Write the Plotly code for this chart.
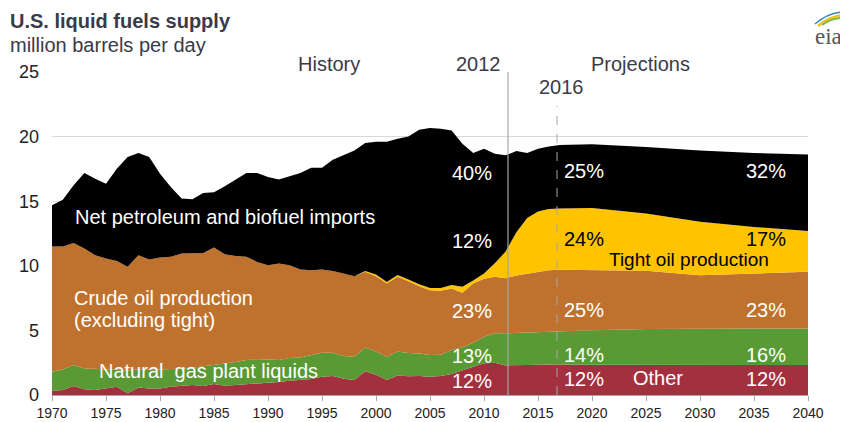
import plotly.graph_objects as go

# ---------------- data (million barrels per day) ----------------
years = list(range(1970, 2018)) + [2020, 2025, 2030, 2035, 2040]

other = [0.30, 0.39, 0.70, 0.44, 0.39, 0.49, 0.64, 0.13, 0.59, 0.51,
         0.51, 0.64, 0.70, 0.77, 0.70, 0.85, 0.72, 0.77, 0.85, 0.85,
         0.90, 1.00, 1.10, 1.16, 1.23, 1.42, 1.47, 1.26, 1.16, 1.83,
         1.57, 1.16, 1.50, 1.45, 1.47, 1.42, 1.47, 1.62, 1.93, 2.19,
         2.45, 2.50, 2.29, 2.29, 2.32, 2.35, 2.37, 2.37,
         2.35, 2.33, 2.32, 2.32, 2.32]

ngpl = [1.50, 1.59, 1.62, 1.62, 1.64, 1.49, 1.36, 1.74, 1.41, 1.44,
        1.47, 1.36, 1.35, 1.33, 1.50, 1.47, 1.73, 1.78, 1.85, 1.90,
        1.85, 1.70, 1.76, 1.74, 1.84, 1.85, 1.80, 1.75, 1.80, 1.85,
        1.80, 1.80, 1.87, 1.80, 1.75, 1.67, 1.65, 1.86, 1.76, 1.85,
        2.06, 2.27, 2.48, 2.51, 2.51, 2.50, 2.50, 2.53,
        2.67, 2.77, 2.83, 2.83, 2.83]

crude = [9.70, 9.52, 9.45, 9.27, 8.79, 8.58, 8.38, 8.05, 8.82, 8.54,
         8.66, 8.70, 8.90, 8.85, 8.80, 9.09, 8.45, 8.20, 8.00, 7.55,
         7.30, 7.48, 7.19, 6.81, 6.59, 6.44, 6.33, 6.39, 6.24, 5.85,
         5.83, 5.67, 5.78, 5.55, 5.20, 5.02, 4.94, 4.76, 4.22, 4.59,
         4.49, 4.38, 4.27, 4.45, 4.57, 4.70, 4.79, 4.80,
         4.64, 4.51, 4.12, 4.25, 4.38]

tight = [0, 0, 0, 0, 0, 0, 0, 0, 0, 0,
         0, 0, 0, 0, 0, 0, 0, 0, 0, 0,
         0, 0, 0, 0, 0, 0, 0, 0, 0, 0.06,
         0.12, 0.12, 0.14, 0.14, 0.16, 0.18, 0.22, 0.28, 0.46, 0.24,
         0.40, 1.05, 2.06, 3.35, 4.30, 4.65, 4.74, 4.73,
         4.81, 4.43, 4.13, 3.60, 3.17]

imports = [3.18, 3.62, 4.46, 5.85, 5.92, 5.79, 7.14, 8.50, 7.91, 7.93,
           6.49, 5.40, 4.25, 4.20, 4.64, 4.29, 5.25, 5.90, 6.48, 6.88,
           6.82, 6.49, 6.85, 7.47, 7.93, 7.88, 8.60, 9.15, 9.73, 9.91,
           10.28, 10.85, 10.55, 11.06, 11.95, 12.37, 12.32, 11.96, 11.08, 9.86,
           9.66, 8.48, 7.45, 6.28, 5.03, 4.86, 4.84, 4.92,
           4.93, 5.15, 5.53, 5.73, 5.92]

x_ticks = list(range(1970, 2041, 5))
y_ticks = [0, 5, 10, 15, 20, 25]

shares_2012 = ["40%", "12%", "23%", "13%", "12%"]
shares_2020 = ["25%", "24%", "25%", "14%", "12%"]
shares_2035 = ["32%", "17%", "23%", "16%", "12%"]

# ---------------- layout geometry (screen pixels; page body has 8px margin) ----------------
OFF = 8
W, H = 848 - OFF, 422 - OFF
L, R, T, B = 52, 808, 72, 395   # plot area in screen pixels


def px(x):
    return (x - L) / (R - L)


def py(y):
    return (B - y) / (B - T)


FONT = "Liberation Sans, Arial, sans-serif"

series = [
    ("Other", other, "#A3303F"),
    ("Natural gas plant liquids", ngpl, "#5A9A34"),
    ("Crude oil production (excluding tight)", crude, "#BF722E"),
    ("Tight oil production", tight, "#FFC300"),
    ("Net petroleum and biofuel imports", imports, "#000000"),
]

fig = go.Figure()
for name, vals, col in series:
    fig.add_trace(go.Scatter(
        x=years, y=vals, name=name, mode="lines",
        stackgroup="one", fillcolor=col,
        line=dict(width=0, color=col),
        hoverinfo="x+y+name",
    ))

ann = []


def txt(x, y, s, size=20, color="white", anchor="center", bold=False, family=FONT):
    ann.append(dict(
        x=px(x), y=py(y), xref="paper", yref="paper", text=("<b>%s</b>" % s) if bold else s,
        showarrow=False, xanchor=anchor, yanchor="middle",
        font=dict(size=size, color=color, family=family),
    ))


# title
txt(8, 21, "U.S. liquid fuels supply", size=20, color="#3A3A48", anchor="left", bold=True)
txt(8, 45, "million barrels per day", size=20, color="#3A3A48", anchor="left")

# headers
txt(329, 64, "History", color="#3A3A48")
txt(479, 64, "2012", color="#3A3A48")
txt(640, 64, "Projections", color="#3A3A48")
txt(561, 87, "2016", color="#3A3A48")

# series labels
txt(73, 217, "Net petroleum and biofuel imports", anchor="left")
txt(72, 298, "Crude oil production", anchor="left")
txt(72, 320, "(excluding tight)", anchor="left")
txt(97, 371, "Natural  gas plant liquids", anchor="left")
txt(689, 259, "Tight oil production", color="black", size=19)
txt(658, 378, "Other")

# share labels
ys = [173, 241, 311, 356, 381]
for i in range(5):
    txt(472, ys[i], shares_2012[i], color="white")
ys2 = [171, 239, 310, 355, 379]
for i in range(5):
    c = "black" if i == 1 else "white"
    txt(584, ys2[i], shares_2020[i], color=c)
    txt(766, ys2[i], shares_2035[i], color=c)

# eia logo text
txt(844, 36, "eia", size=23, color="#555555", anchor="right", family="Liberation Serif, DejaVu Serif, serif")

shapes = [
    # 2012 history/projection divider
    dict(type="line", xref="paper", yref="paper", x0=px(508), x1=px(508), y0=0, y1=1,
         line=dict(color="#A6A6A6", width=1.2)),
    # 2016 dashed
    dict(type="line", xref="paper", yref="paper", x0=px(557), x1=px(557), y0=0, y1=py(106),
         line=dict(color="#A6A6A6", width=1, dash="dash")),
    # eia swoosh
    dict(type="path", xref="paper", yref="paper",
         path="M %f %f Q %f %f %f %f" % (px(818), py(26), px(830), py(16), px(845), py(15)),
         line=dict(color="#F2C318", width=2.5)),
    dict(type="path", xref="paper", yref="paper",
         path="M %f %f Q %f %f %f %f" % (px(822), py(25), px(833), py(17), px(846), py(18)),
         line=dict(color="#7DBB42", width=2)),
    dict(type="path", xref="paper", yref="paper",
         path="M %f %f Q %f %f %f %f" % (px(815), py(24), px(829), py(12), px(844), py(12)),
         line=dict(color="#2E86C1", width=1.5)),
]

fig.update_layout(
    width=W, height=H,
    margin=dict(l=L - OFF, r=W - (R - OFF), t=T - OFF, b=H - (B - OFF), pad=0, autoexpand=False),
    paper_bgcolor="white", plot_bgcolor="white",
    showlegend=False,
    annotations=ann,
    shapes=shapes,
    xaxis=dict(
        range=[1970, 2040], tickvals=x_ticks, ticktext=[str(v) for v in x_ticks],
        showgrid=False, zeroline=False, showline=True, linecolor="#A6A6A6", linewidth=1,
        ticks="outside", ticklen=5, tickcolor="#A6A6A6", automargin=False,
        tickfont=dict(size=14, color="#222222", family="Liberation Sans Narrow, Arial Narrow, Liberation Sans, Arial"),
    ),
    yaxis=dict(
        range=[0, 25], tickvals=y_ticks, showgrid=True, gridcolor="#D9D9D9", gridwidth=1,
        zeroline=False, showline=False, ticks="", ticklabelstandoff=12, automargin=False,
        tickfont=dict(size=18, color="#222222", family=FONT),
    ),
)

fig.write_html("out.html")
